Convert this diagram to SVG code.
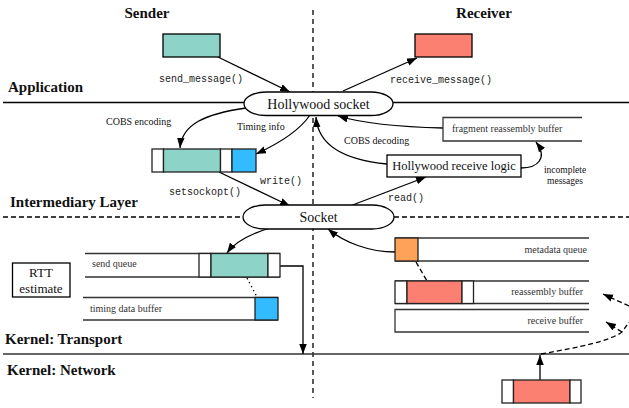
<svg xmlns="http://www.w3.org/2000/svg" width="629" height="408" viewBox="0 0 629 408">
<style>
.serif{font-family:"Liberation Serif","Times New Roman",serif;fill:#111}
.bold{font-family:"Liberation Serif","Times New Roman",serif;font-weight:bold;font-size:15px;fill:#111}
.mono{font-family:"Liberation Mono","Courier New",monospace;font-size:10px;fill:#222}
.buf{font-family:"Liberation Serif","Times New Roman",serif;font-size:10px;fill:#333}
.edge{fill:none;stroke:#000;stroke-width:1.3}
.dash{fill:none;stroke:#000;stroke-width:1.3;stroke-dasharray:5,3}
.bline{fill:none;stroke:#333;stroke-width:1.3}
.seg{stroke:#222;stroke-width:1.3}
.box{fill:#fff;stroke:#000;stroke-width:1.3}
</style>
<defs>
<marker id="ah" markerUnits="userSpaceOnUse" markerWidth="11" markerHeight="8" refX="10" refY="3.75" orient="auto">
<path d="M0,0 L10,3.75 L0,7.5 z" fill="#000"/>
</marker>
</defs>
<rect width="629" height="408" fill="#fff"/>

<g id="layers">
<line x1="313" y1="10" x2="313" y2="398" stroke="#000" stroke-width="1.3" stroke-dasharray="5,4"/>
<line x1="3" y1="102.5" x2="245" y2="102.5" stroke="#000" stroke-width="1.3"/>
<line x1="392" y1="102.5" x2="629" y2="102.5" stroke="#000" stroke-width="1.3"/>
<line x1="3" y1="217" x2="243" y2="217" stroke="#000" stroke-width="1.3" stroke-dasharray="5,3"/>
<line x1="394" y1="217" x2="629" y2="217" stroke="#000" stroke-width="1.3" stroke-dasharray="5,3"/>
<line x1="3" y1="354" x2="629" y2="354" stroke="#333" stroke-width="1.3"/>
<text class="bold" x="147" y="18" text-anchor="middle">Sender</text>
<text class="bold" x="484" y="18" text-anchor="middle">Receiver</text>
<text class="bold" x="8" y="92">Application</text>
<text class="bold" x="10" y="207">Intermediary Layer</text>
<text class="bold" x="5" y="344">Kernel: Transport</text>
<text class="bold" x="7" y="375">Kernel: Network</text>
</g>

<g id="connectors">
<path class="edge" d="M218,57 L290,92" marker-end="url(#ah)"/>
<path class="edge" d="M343,91 L417,58" marker-end="url(#ah)"/>
<path class="edge" d="M246,108 C205,114 182,124 180,148" marker-end="url(#ah)"/>
<path class="edge" d="M310,115 C300,130 282,142 256,154" marker-end="url(#ah)"/>
<path class="edge" d="M219,172 L290,206" marker-end="url(#ah)"/>
<path class="edge" d="M350,206 L426,177" marker-end="url(#ah)"/>
<path class="edge" d="M387,164 C345,160 318,146 316,117" marker-end="url(#ah)"/>
<path class="edge" d="M443,128 C400,127 365,124 338,116" marker-end="url(#ah)"/>
<path class="edge" d="M521,168 C538,168 548,158 536,142" marker-end="url(#ah)"/>
<path class="edge" d="M270,228 C250,234 235,242 227,253" marker-end="url(#ah)"/>
<path class="edge" d="M395,252 C370,252 345,243 328,229" marker-end="url(#ah)"/>
<path class="edge" d="M280,266 H303 V354" marker-end="url(#ah)"/>
<path fill="none" stroke="#000" stroke-width="1.3" stroke-dasharray="1.5,3" d="M247,278 L257,297"/>
<path class="dash" d="M416,262 L427,281"/>
<path class="edge" d="M540,380 V355" marker-end="url(#ah)"/>
<path class="dash" d="M541,354 C580,347 610,341 622,332 C625,328 627,325 629,322"/>
<path class="dash" d="M622,332 L606,322" marker-end="url(#ah)"/>
<path class="dash" d="M629,306 L603,294" marker-end="url(#ah)"/>
<text class="serif" font-size="10" x="106" y="125">COBS encoding</text>
<text class="serif" font-size="10" x="237" y="130">Timing info</text>
<text class="serif" font-size="10" x="344" y="144">COBS decoding</text>
<text class="serif" font-size="9.5" x="565" y="173" text-anchor="middle">incomplete</text>
<text class="serif" font-size="9.5" x="565" y="184" text-anchor="middle">messages</text>
<text class="mono" x="159" y="82">send_message()</text>
<text class="mono" x="390" y="83">receive_message()</text>
<text class="mono" x="260" y="184">write()</text>
<text class="mono" x="169" y="195">setsockopt()</text>
<text class="mono" x="388" y="201">read()</text>
</g>

<g id="sender_msg">
<rect x="163" y="34" width="57" height="23" fill="#8dd3c7" stroke="#000" stroke-width="1.3"/>
</g>

<g id="receiver_msg">
<rect x="415" y="34" width="57" height="23" fill="#fb8072" stroke="#000" stroke-width="1.3"/>
</g>

<g id="hollywood_socket">
<rect class="box" x="244" y="92" width="149" height="23.5" rx="22" ry="11.75"/>
<text class="serif" font-size="14" x="318.5" y="108.5" text-anchor="middle">Hollywood socket</text>
</g>

<g id="encoded_packet">
<rect class="seg" x="152" y="149" width="11.5" height="23" fill="#fff"/>
<rect class="seg" x="163.5" y="149" width="57" height="23" fill="#8dd3c7"/>
<rect class="seg" x="220.5" y="149" width="11.5" height="23" fill="#fff"/>
<rect class="seg" x="232" y="149" width="24" height="23" fill="#33bbff"/>
</g>

<g id="fragment_buffer">
<path class="bline" d="M582,117.5 H443 V141 H582"/>
<text class="buf" x="452" y="132">fragment reassembly buffer</text>
</g>

<g id="receive_logic">
<rect class="box" x="387" y="155" width="134" height="22"/>
<text class="serif" font-size="12.5" x="454" y="170" text-anchor="middle">Hollywood receive logic</text>
</g>

<g id="socket">
<rect class="box" x="243" y="205" width="151" height="24" rx="22" ry="12"/>
<text class="serif" font-size="14" x="318.5" y="222" text-anchor="middle">Socket</text>
</g>

<g id="rtt">
<rect class="box" x="12.5" y="263" width="57.5" height="34" stroke="#222"/>
<text class="serif" font-size="13" x="41" y="277" text-anchor="middle">RTT</text>
<text class="serif" font-size="13" x="41" y="293" text-anchor="middle">estimate</text>
</g>

<g id="send_queue">
<path class="bline" d="M85,253.5 H280 M85,277 H280"/>
<rect class="seg" x="199" y="253.5" width="12" height="23.5" fill="#fff"/>
<rect class="seg" x="211" y="253.5" width="57" height="23.5" fill="#8dd3c7"/>
<rect class="seg" x="268" y="253.5" width="12" height="23.5" fill="#fff"/>
<text class="buf" x="92" y="267">send queue</text>
</g>

<g id="timing_buffer">
<path class="bline" d="M83,297.5 H278 M83,320 H278"/>
<rect class="seg" x="255" y="297.5" width="23" height="22.5" fill="#33bbff"/>
<text class="buf" x="90" y="312">timing data buffer</text>
</g>

<g id="metadata_queue">
<path class="bline" d="M395,238 H589 M395,261 H589"/>
<rect class="seg" x="395" y="238" width="23" height="23" fill="#fea25a"/>
<text class="buf" x="587" y="253" text-anchor="end">metadata queue</text>
</g>

<g id="reassembly_buffer">
<path class="bline" d="M395,281 H589 M395,303.5 H589"/>
<rect class="seg" x="395" y="281" width="12" height="22.5" fill="#fff"/>
<rect class="seg" x="407" y="281" width="55" height="22.5" fill="#fb8072"/>
<rect class="seg" x="462" y="281" width="11.5" height="22.5" fill="#fff"/>
<text class="buf" x="583" y="295" text-anchor="end">reassembly buffer</text>
</g>

<g id="receive_buffer">
<path class="bline" d="M589,309.5 H395 V332 H589"/>
<text class="buf" x="583" y="324" text-anchor="end">receive buffer</text>
</g>

<g id="network_packet">
<rect class="seg" x="502" y="380" width="11.5" height="23" fill="#fff"/>
<rect class="seg" x="513.5" y="380" width="56.5" height="23" fill="#fb8072"/>
<rect class="seg" x="570" y="380" width="11" height="23" fill="#fff"/>
</g>
</svg>
